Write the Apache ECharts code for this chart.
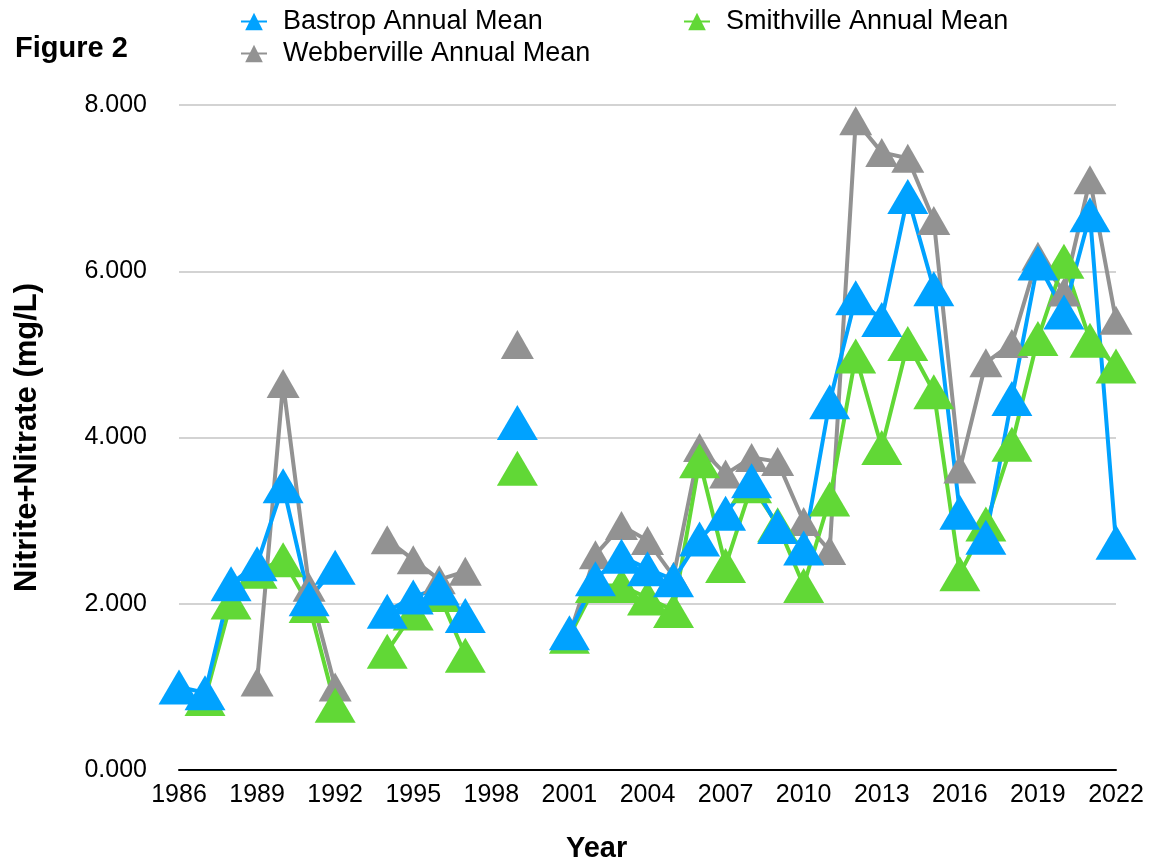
<!DOCTYPE html>
<html lang="en">
<head>
    <meta charset="UTF-8">
    <title>Figure 2</title>
    <script src="https://cdn.jsdelivr.net/npm/echarts@6/dist/echarts.min.js" type="text/javascript"></script>
    <style>
        html, body { margin: 0; padding: 0; background: #fff; }
    </style>
</head>
<body>
<div id="chart" style="width: 1154px;height:863px;"></div>
</body>

<script type="text/javascript">
    var years = [];
    for (var y = 1986; y <= 2022; y++) { years.push(String(y)); }

    // annual means, mg/L (null = no data that year)
    var bastrop = [1.00, 0.93, 2.24, 2.48, 3.42, 2.06, 2.44, null, 1.91, 2.08, 2.19, 1.86, null, 4.18, null,
        1.65, 2.30, 2.57, 2.42, 2.29, 2.78, 3.09, 3.48, 2.93, 2.67, 4.43, 5.68, 5.42, 6.90, 5.79, 3.10,
        2.80, 4.47, 6.10, 5.51, 6.68, 2.74];
    var webberville = [null, null, null, 1.06, 4.65, 2.20, 1.00, null, 2.77, 2.53, 2.29, 2.39, null, 5.12, null,
        1.62, 2.59, 2.94, 2.76, 2.33, 3.88, 3.56, 3.76, 3.71, 2.99, 2.64, 7.81, 7.43, 7.36, 6.61, 3.62,
        4.90, 5.13, 6.18, 5.75, 7.10, 5.41];
    var smithville = [null, 0.86, 2.02, 2.39, 2.53, 1.98, 0.78, null, 1.43, 1.89, 2.11, 1.38, null, 3.63, null,
        1.61, 2.22, 2.22, 2.07, 1.92, 3.72, 2.46, 3.42, 2.95, 2.22, 3.26, 4.98, 3.88, 5.13, 4.55, 2.36,
        2.96, 3.92, 5.19, 6.12, 5.17, 4.86];

    var font = "'Liberation Sans', Helvetica, Arial, sans-serif";
    var chart = echarts.init(document.getElementById('chart'));

    function line(name, data, color, size) {
        return {
            name: name,
            type: 'line',
            data: data,
            connectNulls: false,
            showAllSymbol: true,
            symbol: 'triangle',
            symbolSize: size,
            lineStyle: { color: color, width: 4 },
            itemStyle: { color: color },
            emphasis: { disabled: true },
            animation: false
        };
    }

    var legendText = { fontFamily: font, fontSize: 27, color: '#000', padding: [0, 0, 0, 11] };

    chart.setOption({
        title: {
            text: 'Figure 2',
            left: 15,
            top: 34,
            padding: 0,
            textStyle: { fontFamily: font, fontSize: 29, fontWeight: 'bold', color: '#000' }
        },
        // x axis title sits left of the plot centre in the original
        graphic: [{
            type: 'text',
            left: 566,
            top: 834,
            style: { text: 'Year', fontFamily: font, fontSize: 29, fontWeight: 'bold', fill: '#000' }
        }],
        legend: [{
            data: ['Bastrop Annual Mean', 'Webberville Annual Mean'],
            orient: 'vertical',
            left: 240,
            top: 8,
            padding: 0,
            itemGap: 5,
            itemWidth: 26,
            itemHeight: 22,
            textStyle: legendText
        }, {
            data: ['Smithville Annual Mean'],
            orient: 'vertical',
            left: 683,
            top: 8,
            padding: 0,
            itemWidth: 26,
            itemHeight: 22,
            textStyle: legendText
        }],
        grid: { left: 179, right: 38, top: 105, bottom: 93, containLabel: false },
        xAxis: {
            type: 'category',
            data: years,
            boundaryGap: false,
            axisLine: { lineStyle: { color: '#000', width: 2 } },
            axisTick: { show: false },
            axisLabel: { interval: 2, margin: 13, fontFamily: font, fontSize: 25, color: '#000' },
            splitLine: { show: false }
        },
        yAxis: {
            type: 'value',
            min: 0,
            max: 8,
            interval: 2,
            name: 'Nitrite+Nitrate (mg/L)',
            nameLocation: 'middle',
            nameGap: 136,
            nameTextStyle: { fontFamily: font, fontSize: 31, fontWeight: 'bold', color: '#000' },
            axisLine: { show: false },
            axisTick: { show: false },
            axisLabel: {
                margin: 32, fontFamily: font, fontSize: 25, color: '#000',
                formatter: function (v) { return v.toFixed(3); }
            },
            splitLine: { lineStyle: { color: '#c4c4c4', width: 1.5 } }
        },
        series: [
            line('Webberville Annual Mean', webberville, '#929292', [33, 29]),
            line('Smithville Annual Mean', smithville, '#61D836', [41, 35]),
            line('Bastrop Annual Mean', bastrop, '#00A2FF', [41, 35])
        ]
    });
</script>
</html>
